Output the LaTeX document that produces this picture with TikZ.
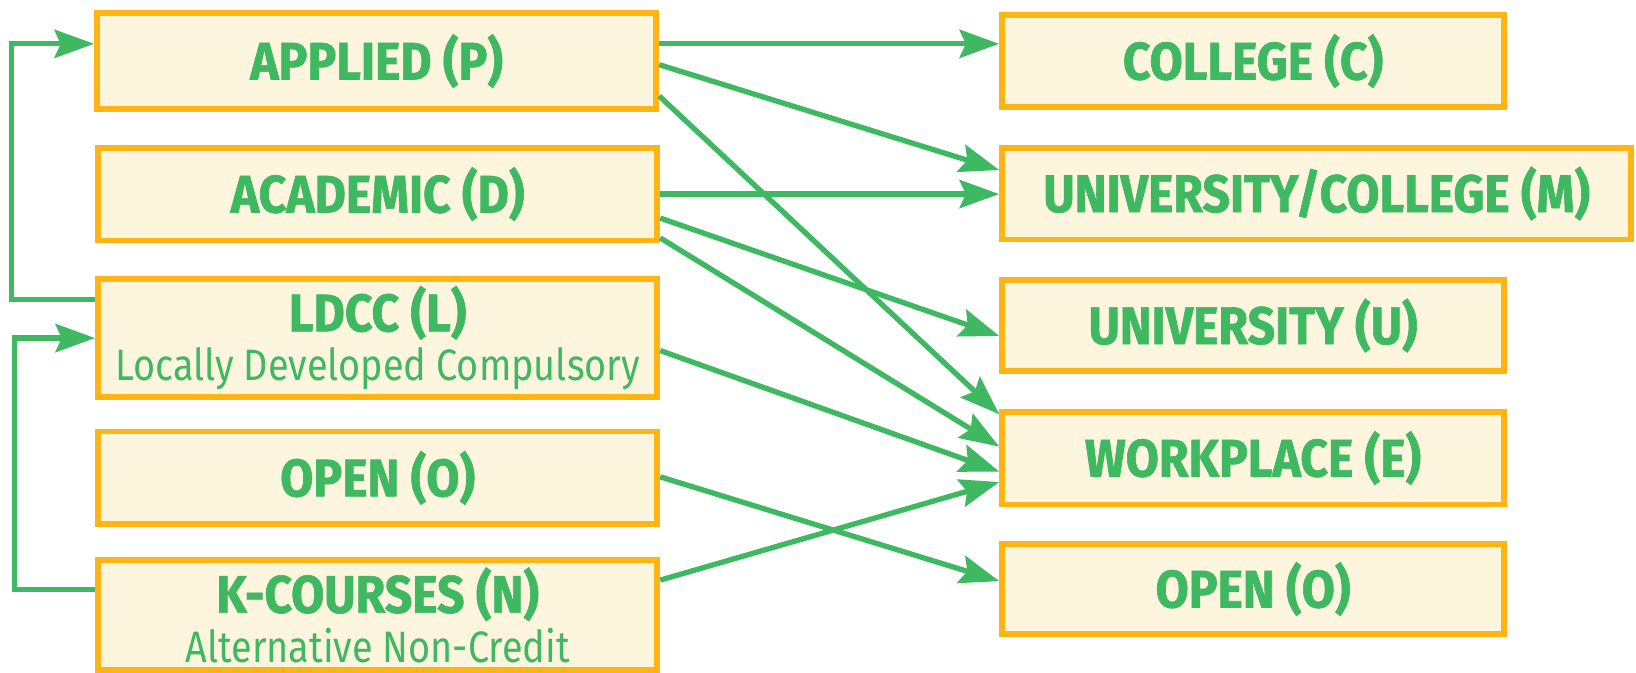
\documentclass[tikz,border=0pt]{standalone}
\usepackage{fontspec}
\newfontfamily\headfont[FakeStretch=0.91,FakeBold=1.2]{Fira Sans}
\newfontfamily\subfont[FakeStretch=0.86]{Fira Sans}
\usetikzlibrary{arrows.meta}
\definecolor{pathgreen}{HTML}{3FB862}
\definecolor{boxorange}{HTML}{FDB515}
\definecolor{boxfill}{HTML}{FEF5DF}

\begin{document}
\begin{tikzpicture}[x=0.1mm,y=-0.1mm]
            \tikzset{
                course/.style={draw=boxorange, fill=boxfill, line width=1.6pt, inner sep=0pt,
                    minimum width=53.6mm, minimum height=8.9mm, text=pathgreen, align=center,
                    font=\headfont\bfseries\fontsize{14.4}{16}\selectfont},
                dest/.style={course, minimum width=48.1mm, minimum height=8.8mm},
                link/.style={draw=pathgreen, line width=1.45pt,
                    -{Stealth[length=3.8mm,width=2.7mm,inset=0.6mm]}},}
            \def\subline#1{\\[-2.5pt]{\subfont\mdseries\fontsize{12}{13}\selectfont #1}}
            \useasboundingbox (0,0) rectangle (1568,645);
            % course types
            \node [course, minimum height=9.2mm] (applied) at (361,58.5) {APPLIED (P)};
            \node [course] (academic) at (362,186) {ACADEMIC (D)};
            \node [course, minimum height=11.3mm] (ldcc) at (362,324) {LDCC (L)\subline{Locally Developed Compulsory}};
            \node [course] (openl) at (362,458) {OPEN (O)};
            \node [course, minimum height=10.6mm] (kcourses) at (362,589.5) {K-COURSES (N)\subline{Alternative Non-Credit}};
            % destinations
            \node [dest] (college) at (1201,58.5) {COLLEGE (C)};
            \node [dest, minimum width=60.3mm] (univcollege) at (1262,185.5) {UNIVERSITY/COLLEGE (M)};
            \node [dest, minimum height=8.7mm] (university) at (1201,312) {UNIVERSITY (U)};
            \node [dest, minimum height=8.9mm] (workplace) at (1201,439) {WORKPLACE (E)};
            \node [dest, minimum height=8.6mm] (openr) at (1201,564.5) {OPEN (O)};
            % pathways
            \draw [link] ([yshift=1.65mm]applied.east) -- ([yshift=1.65mm]college.west);
            \draw [link] ([yshift=-0.35mm]applied.east) -- ([yshift=2.25mm]univcollege.west);
            \draw [link] ([yshift=-3.35mm]applied.east) -- ([yshift=4.2mm]workplace.west);
            \draw [link] (academic.east) -- (academic.east -| univcollege.west);
            \draw [link] ([yshift=-2.3mm]academic.east) -- ([yshift=-1mm]university.west);
            \draw [link] ([yshift=-4.2mm]academic.east) -- ([yshift=1.1mm]workplace.west);
            \draw [link] ([yshift=-1.2mm]ldcc.east) -- ([yshift=-1.3mm]workplace.west);
            \draw [link] ([yshift=0.1mm]openl.east) -- ([yshift=0.75mm]openr.west);
            \draw [link] ([yshift=3.35mm]kcourses.east) -- ([yshift=-2.3mm]workplace.west);
            % back to applied
            \draw [link] ([yshift=3.7mm]ldcc.west) -- ++(-80,0) |- ([yshift=1.65mm]applied.west);
            \draw [link] ([yshift=2.45mm]kcourses.west) -- ++(-77,0) |- (ldcc.west);
        \end{tikzpicture}
\end{document}
